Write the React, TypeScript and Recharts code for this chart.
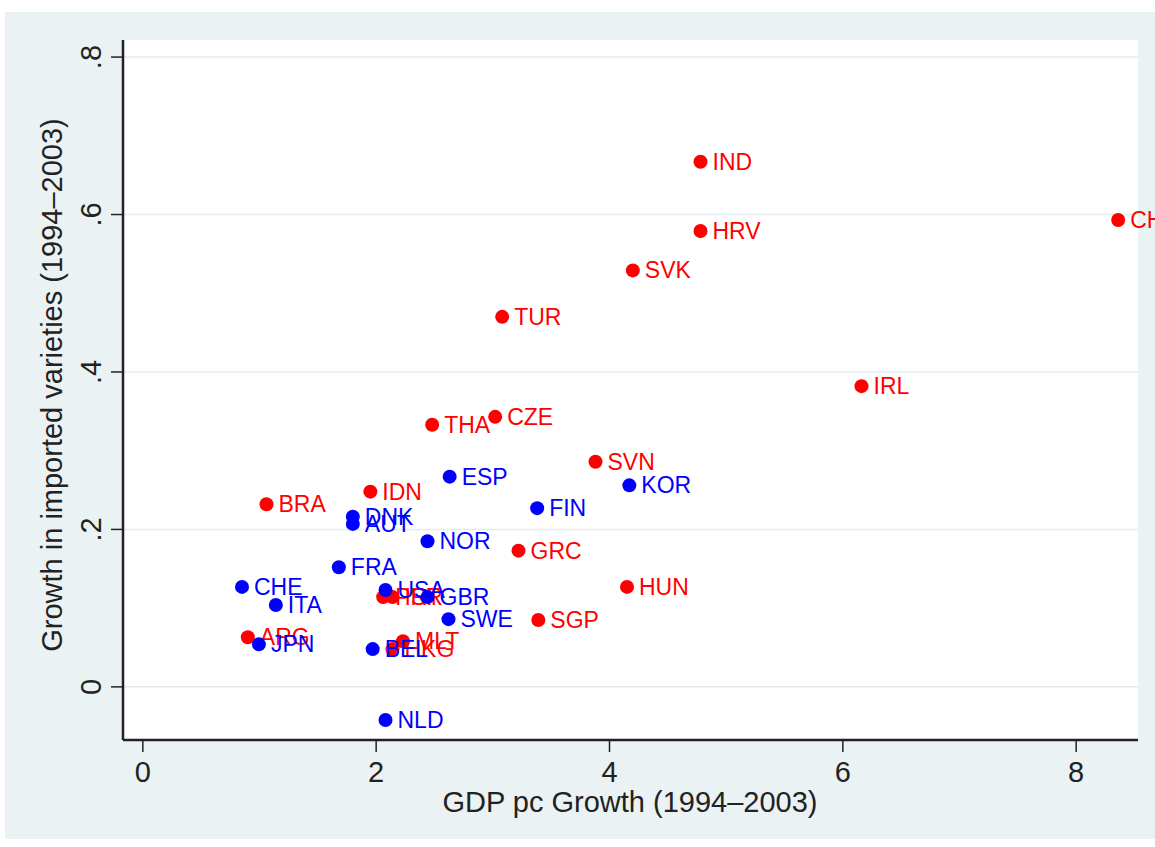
import React from 'react';
import { ScatterChart, Scatter, XAxis, YAxis, CartesianGrid } from 'recharts';

// red group
const redCodes = ['IND', 'HRV', 'SVK', 'TUR', 'CHN', 'IRL', 'CZE', 'THA', 'SVN', 'IDN', 'BRA', 'GRC', 'HUN', 'SGP', 'ARG', 'PRT', 'ISR', 'MLT', 'HKG'];
const redX = [4.78, 4.78, 4.2, 3.08, 8.36, 6.16, 3.02, 2.48, 3.88, 1.95, 1.06, 3.22, 4.15, 3.39, 0.9, 2.06, 2.14, 2.23, 2.14];
const redY = [0.667, 0.579, 0.529, 0.47, 0.593, 0.382, 0.343, 0.333, 0.286, 0.248, 0.232, 0.173, 0.127, 0.085, 0.063, 0.114, 0.114, 0.058, 0.048];

// blue group
const blueCodes = ['ESP', 'KOR', 'FIN', 'DNK', 'AUT', 'NOR', 'FRA', 'CHE', 'USA', 'GBR', 'ITA', 'SWE', 'JPN', 'BEL', 'NLD'];
const blueX = [2.63, 4.17, 3.38, 1.8, 1.8, 2.44, 1.68, 0.85, 2.08, 2.44, 1.14, 2.62, 0.995, 1.97, 2.08];
const blueY = [0.267, 0.256, 0.227, 0.216, 0.207, 0.185, 0.152, 0.127, 0.123, 0.114, 0.104, 0.086, 0.054, 0.048, -0.042];

const xTicks = [0, 2, 4, 6, 8];
const yTicks = [0, 0.2, 0.4, 0.6, 0.8];

const redData = redCodes.map((code, i) => ({ code, x: redX[i], y: redY[i] }));
const blueData = blueCodes.map((code, i) => ({ code, x: blueX[i], y: blueY[i] }));

const FONT = '"Liberation Sans", Arial, Helvetica, sans-serif';

const makeShape = (color: string) => (props: any) => {
    const { cx, cy, payload } = props;
    return (
        <g>
            <circle cx={cx} cy={cy} r={7} fill={color} />
            <text x={cx + 12} y={cy} dominantBaseline="central" fill={color} fontSize={23} fontFamily={FONT}>
                {payload.code}
            </text>
        </g>
    );
};

const YTick = (props: any) => {
    const { y, payload } = props;
    const v = payload.value;
    const label = v === 0 ? '0' : String(v).replace(/^0/, '');
    const bx = 101;
    return (
        <text x={bx} y={y} transform={`rotate(-90, ${bx}, ${y})`} textAnchor="middle" fill="#222" fontSize={29} fontFamily={FONT}>
            {label}
        </text>
    );
};

const XTick = (props: any) => {
    const { x, payload } = props;
    return (
        <text x={x} y={782} textAnchor="middle" fill="#222" fontSize={29} fontFamily={FONT}>
            {payload.value}
        </text>
    );
};

export default function App() {
    return (
        <div style={{ position: 'absolute', left: 0, top: 0, width: 1155, height: 847, background: '#fff', overflow: 'hidden' }}>
            <div style={{ position: 'absolute', left: 5, top: 12, right: 0, bottom: 8, background: '#eaf2f3' }} />
            <div style={{ position: 'absolute', left: 0, top: 0 }}>
                <ScatterChart width={1155} height={847} margin={{ top: 40, right: 17, bottom: 0, left: 0 }}>
                    <CartesianGrid vertical={false} horizontalValues={yTicks} stroke="#e2ecef" strokeWidth={1.5} fill="#ffffff" fillOpacity={1} />
                    <XAxis
                        type="number"
                        dataKey="x"
                        domain={[-0.17, 8.53]}
                        ticks={xTicks}
                        height={107}
                        tickSize={12}
                        tick={<XTick />}
                        axisLine={{ stroke: '#222', strokeWidth: 2.5 }}
                        tickLine={{ stroke: '#222', strokeWidth: 1.5 }}
                        label={{
                            content: () => (
                                <text x={630} y={812} textAnchor="middle" fill="#222" fontSize={29} fontFamily={FONT}>
                                    GDP pc Growth (1994–2003)
                                </text>
                            ),
                        }}
                    />
                    <YAxis
                        type="number"
                        dataKey="y"
                        domain={[-0.0675, 0.8217]}
                        ticks={yTicks}
                        width={123}
                        tickSize={12}
                        tick={<YTick />}
                        axisLine={{ stroke: '#222', strokeWidth: 2.5 }}
                        tickLine={{ stroke: '#222', strokeWidth: 1.5 }}
                        label={{
                            content: () => (
                                <text x={62} y={385} transform="rotate(-90, 62, 385)" textAnchor="middle" fill="#222" fontSize={29} fontFamily={FONT}>
                                    Growth in imported varieties (1994–2003)
                                </text>
                            ),
                        }}
                    />
                    <Scatter data={redData} fill="red" shape={makeShape('#ff0000')} isAnimationActive={false} />
                    <Scatter data={blueData} fill="blue" shape={makeShape('#0000ff')} isAnimationActive={false} />
                </ScatterChart>
            </div>
        </div>
    );
}
